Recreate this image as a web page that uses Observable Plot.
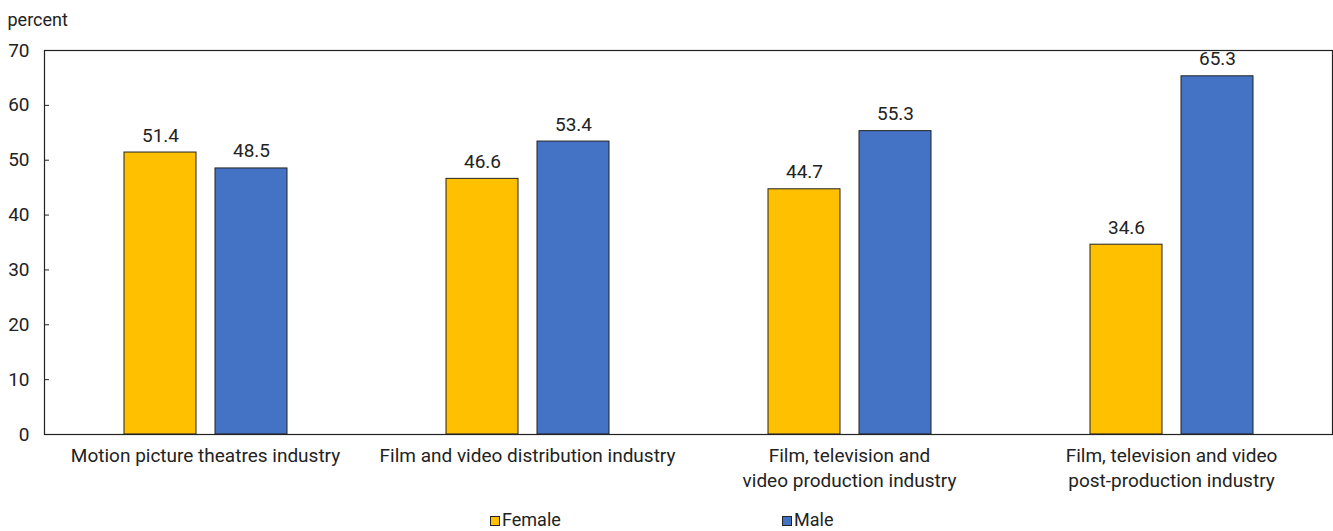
<!DOCTYPE html>
<html>
<head>
<meta charset="utf-8">
<script src="https://cdn.jsdelivr.net/npm/d3@7"></script>
<script src="https://cdn.jsdelivr.net/npm/@observablehq/plot@0.6"></script>
<style>
  html, body { margin: 0; padding: 0; background: #fff; }
  body { width: 1333px; height: 531px; overflow: hidden; font-family: "Roboto", sans-serif; color: #222; }
  #chart svg { display: block; }
  .legend { position: relative; height: 31px; font-size: 18px; }
  .legend .item { position: absolute; top: 9px; display: flex; align-items: center; }
  .legend .sw { width: 10px; height: 10px; border: 1px solid #222; box-sizing: border-box; margin-right: 2px; margin-top: 3px; }
</style>
</head>
<body>
<div id="chart"></div>
<div class="legend" id="legend"></div>
<script>
const industries = [
  "Motion picture theatres industry",
  "Film and video distribution industry",
  "Film, television and\nvideo production industry",
  "Film, television and video\npost-production industry"
];
const sexes = ["Female", "Male"];
const femaleValues = [51.4, 46.6, 44.7, 34.6];
const maleValues = [48.5, 53.4, 55.3, 65.3];
const colors = ["#FFC000", "#4472C4"];
const yTicks = [0, 10, 20, 30, 40, 50, 60, 70];

const data = industries.flatMap((ind, i) => [
  {industry: ind, sex: "Female", value: femaleValues[i]},
  {industry: ind, sex: "Male", value: maleValues[i]}
]);

const fontFamily = '"Roboto", sans-serif';

const plot = Plot.plot({
  width: 1333,
  height: 500,
  marginLeft: 44,
  marginRight: 1,
  marginTop: 50,
  marginBottom: 66,
  style: {fontFamily, fontSize: "19px", color: "#222", background: "#fff"},
  fx: {domain: industries, paddingInner: 0, paddingOuter: 0, label: null},
  x: {domain: sexes, paddingInner: 0.209, paddingOuter: 0.872, axis: null},
  y: {domain: [0, 70], ticks: yTicks, label: null},
  color: {domain: sexes, range: colors},
  marks: [
    Plot.axisY({ticks: yTicks, tickSize: 0, tickPadding: 15, label: null, fontSize: 19}),
    Plot.axisY({ticks: yTicks, tickSize: 5, dx: 5, text: null, label: null, stroke: "#222"}),
    Plot.axisFx({anchor: "bottom", tickSize: 0, tickPadding: 10, lineHeight: 1.3, fontSize: 19, label: null}),
    Plot.barY(data, {fx: "industry", x: "sex", y: "value", fill: "sex", stroke: "#222", strokeWidth: 1}),
    Plot.text(data, {fx: "industry", x: "sex", y: "value", text: d => d.value.toFixed(1), lineAnchor: "bottom", dy: -11, fontSize: 19, fill: "#222"}),
    Plot.frame({stroke: "#222", strokeWidth: 1.2, facet: "super"}),
    Plot.text(["percent"], {frameAnchor: "top-left", dx: -37, dy: -37, textAnchor: "start", fontSize: 18, fill: "#222", facet: "super"})
  ]
});
document.getElementById("chart").appendChild(plot);

const legend = document.getElementById("legend");
const legendLeft = [490, 782];
sexes.forEach((s, i) => {
  const item = document.createElement("div");
  item.className = "item";
  item.style.left = legendLeft[i] + "px";
  const sw = document.createElement("div");
  sw.className = "sw";
  sw.style.background = colors[i];
  const lab = document.createElement("span");
  lab.textContent = s;
  item.appendChild(sw);
  item.appendChild(lab);
  legend.appendChild(item);
});
</script>
</body>
</html>
